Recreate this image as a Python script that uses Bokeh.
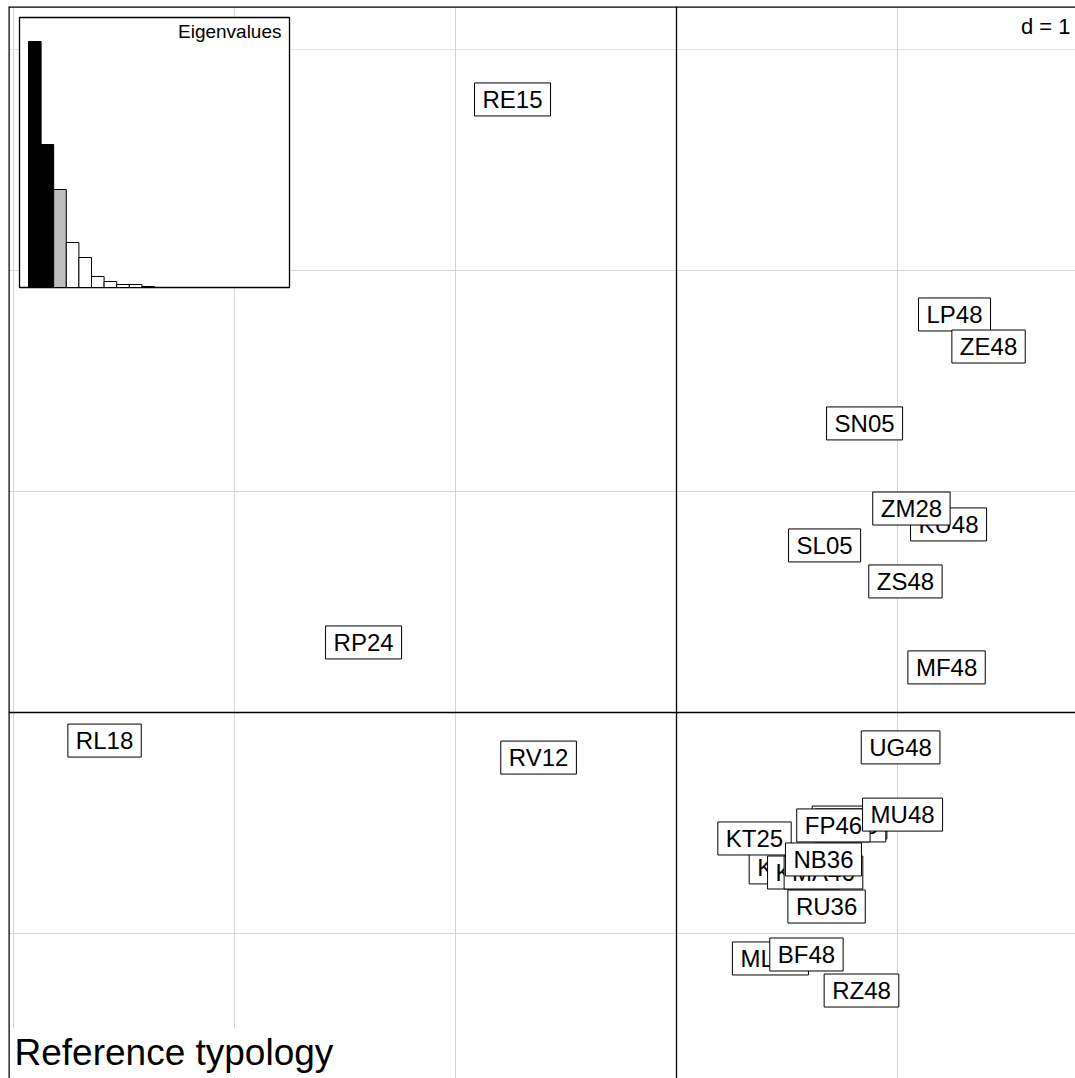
from bokeh.plotting import figure
from bokeh.models import Range1d, Span, Grid, FixedTicker, ColumnDataSource, Label
from bokeh.core.properties import value
from bokeh.embed import file_html
from bokeh.resources import INLINE

# ---------------- data ----------------
site_names = ["RE15", "LP48", "ZE48", "SN05", "KU48", "ZM28", "SL05", "ZS48",
              "RP24", "MF48", "RL18", "RV12", "UG48", "FR48", "FL48", "FP46",
              "MU48", "KA48", "KL48", "MA46", "KT25", "NB36", "RU36", "ML48",
              "BF48", "RZ48"]
axis1 = [-0.742, 1.258, 1.412, 0.851, 1.231, 1.063, 0.670, 1.036,
         -1.416, 1.222, -2.588, -0.624, 1.014, 0.783, 0.787, 0.710,
         1.023, 0.498, 0.575, 0.665, 0.353, 0.665, 0.679, 0.425,
         0.588, 0.837]
axis2 = [2.774, 1.801, 1.656, 1.308, 0.851, 0.923, 0.756, 0.593,
         0.317, 0.204, -0.127, -0.204, -0.158, -0.498, -0.511, -0.511,
         -0.462, -0.701, -0.724, -0.724, -0.570, -0.665, -0.878, -1.113,
         -1.095, -1.258]

eigenvalues = [2.46, 1.43, 0.98, 0.45, 0.30, 0.11, 0.06, 0.03, 0.03, 0.01]
eig_colors = ["black", "black", "#bebebe"] + ["white"] * 7

grid_ticks = [-3, -2, -1, 0, 1, 2]

# ---------------- layout constants (pixels) ----------------
W, H = 1075, 1078
LEFT, TOP = 8, 6
UNIT = 221.0          # pixels per unit (d = 1)
X0PX, Y0PX = 676, 712  # pixel of origin

XMIN = (LEFT - X0PX) / UNIT
XMAX = (W - X0PX) / UNIT
YMAX = (Y0PX - TOP) / UNIT
YMIN = (Y0PX - H) / UNIT

def px_x(px):
    return (px - X0PX) / UNIT

def px_y(py):
    return (Y0PX - py) / UNIT

FONT = "Liberation Sans"

p = figure(width=W, height=H, output_backend="svg", toolbar_location=None,
           x_axis_location=None, y_axis_location=None,
           x_range=Range1d(XMIN, XMAX), y_range=Range1d(YMIN, YMAX),
           min_border_left=LEFT, min_border_top=TOP,
           min_border_right=0, min_border_bottom=0,
           outline_line_color=None, background_fill_color="white",
           border_fill_color="white")

# grid
for dim in (0, 1):
    g = Grid(dimension=dim, ticker=FixedTicker(ticks=grid_ticks),
             grid_line_color="#d6d6d6", grid_line_width=1)
    p.add_layout(g)

# axes through origin
p.add_layout(Span(location=0, dimension="height", line_color="black",
                  line_width=1.3, level="underlay"))
p.add_layout(Span(location=0, dimension="width", line_color="black",
                  line_width=1.3, level="underlay"))
# frame border (left/top visible)
p.add_layout(Span(location=XMIN, dimension="height", line_color="black", line_width=2.5))
p.add_layout(Span(location=YMAX, dimension="width", line_color="black", line_width=2.5))

# ---------------- labels ----------------
src = ColumnDataSource(dict(x=axis1, y=axis2, name=site_names))
p.text(x="x", y="y", text="name", source=src,
       text_align="center", text_baseline="middle",
       text_font=value(FONT), text_font_size="24px", text_color="black",
       background_fill_color="white", border_line_color="black",
       border_line_width=1, padding=(8, 3))

# ---------------- eigenvalue inset ----------------
INSET_L, INSET_R, INSET_T, INSET_B = 19, 289, 17, 287
N_SLOTS = 20
BAR_W = (INSET_R - INSET_L - 18) / N_SLOTS
BAR0 = INSET_L + 9
EMAX = max(eigenvalues)
KY = (INSET_B - 41) / EMAX   # px per eigen unit

p.extra_x_ranges = {"ex": Range1d((LEFT - BAR0) / BAR_W, (W - BAR0) / BAR_W)}
p.extra_y_ranges = {"ey": Range1d((INSET_B - H) / KY, (INSET_B - TOP) / KY)}

p.quad(left=[(INSET_L - BAR0) / BAR_W], right=[(INSET_R - BAR0) / BAR_W],
       bottom=[0], top=[(INSET_B - INSET_T) / KY],
       fill_color="white", line_color="black", line_width=1.3,
       x_range_name="ex", y_range_name="ey")

idx = list(range(len(eigenvalues)))
esrc = ColumnDataSource(dict(l=idx, r=[i + 1 for i in idx],
                             t=eigenvalues, c=eig_colors,
                             b=[0] * len(idx)))
p.quad(left="l", right="r", bottom="b", top="t", fill_color="c",
       line_color="black", line_width=1, source=esrc,
       x_range_name="ex", y_range_name="ey")

p.add_layout(Label(x=(281 - BAR0) / BAR_W, y=(INSET_B - 31) / KY,
                   x_range_name="ex", y_range_name="ey",
                   text="Eigenvalues", text_align="right",
                   text_baseline="alphabetic", text_font=FONT,
                   text_font_size="19px", text_color="black"))

# ---------------- d = 1 and title ----------------
p.add_layout(Label(x=px_x(1070), y=px_y(26), text="d = 1",
                   text_align="right", text_baseline="alphabetic",
                   text_font=FONT, text_font_size="22px", text_color="black",
                   background_fill_color="white"))

p.add_layout(Label(x=px_x(10), y=px_y(1052), text="Reference typology",
                   text_align="left", text_baseline="alphabetic",
                   text_font=FONT, text_font_size="37px", text_color="black",
                   background_fill_color="white", padding=4))

open("out.html", "w").write(file_html(p, INLINE))
